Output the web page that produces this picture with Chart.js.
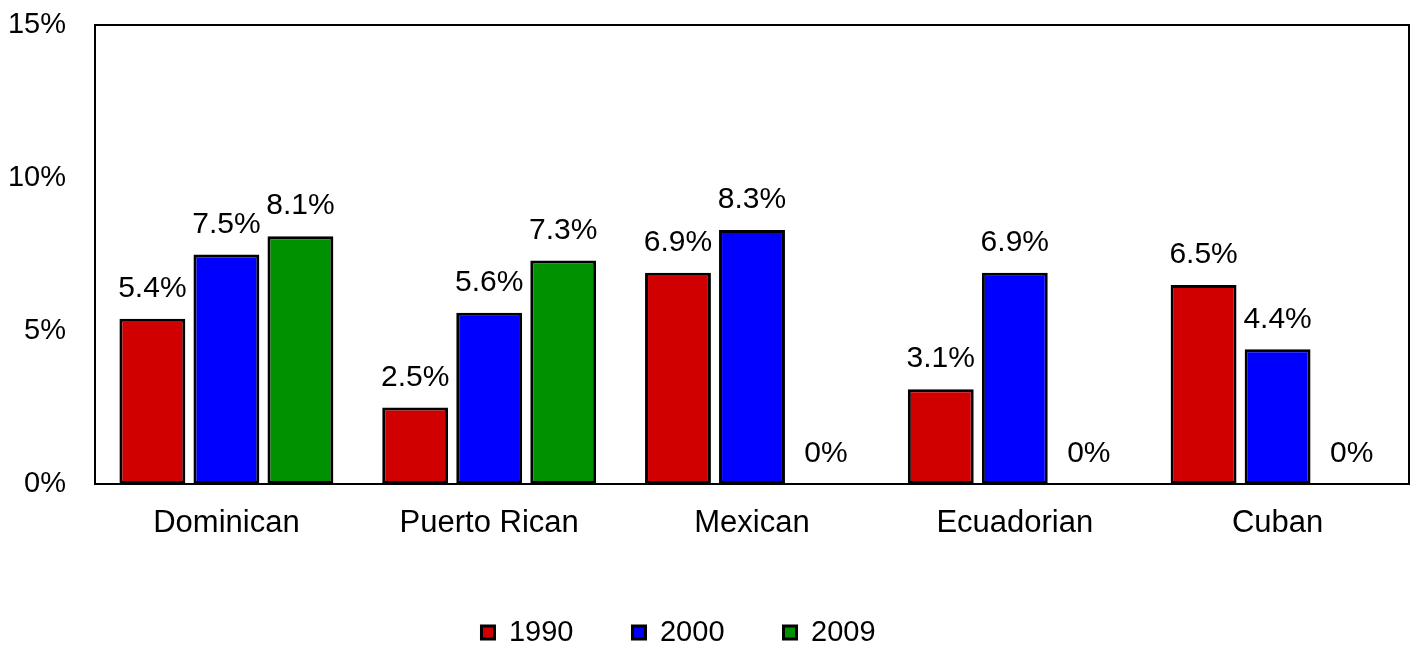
<!DOCTYPE html>
<html>
<head>
<meta charset="utf-8">
<script src="https://cdn.jsdelivr.net/npm/chart.js@4/dist/chart.umd.min.js"></script>
<style>
  html, body { margin: 0; padding: 0; background: #ffffff; }
  #wrap { width: 1413px; height: 650px; }
</style>
</head>
<body>
<div id="wrap"><canvas id="c" width="1413" height="650"></canvas></div>
<script>
const categories = ["Dominican", "Puerto Rican", "Mexican", "Ecuadorian", "Cuban"];
const seriesNames = ["1990", "2000", "2009"];
const values1990 = [5.4, 2.5, 6.9, 3.1, 6.5];
const values2000 = [7.5, 5.6, 8.3, 6.9, 4.4];
const values2009 = [8.1, 7.3, 0, 0, 0];
const yTicks = [0, 5, 10, 15];
const seriesColors = ["#d00000", "#0000ff", "#009100"];

Chart.defaults.font.family = "'Liberation Sans', Arial, sans-serif";
Chart.defaults.color = "#000000";

const valueLabels = {
  id: "valueLabels",
  afterDatasetsDraw(chart) {
    const ctx = chart.ctx;
    ctx.save();
    ctx.font = "30px 'Liberation Sans', Arial, sans-serif";
    ctx.fillStyle = "#000";
    ctx.textAlign = "center";
    ctx.textBaseline = "middle";
    chart.data.datasets.forEach((ds, di) => {
      const meta = chart.getDatasetMeta(di);
      meta.data.forEach((bar, i) => {
        const v = ds.data[i];
        const txt = v === 0 ? "0%" : v.toFixed(1) + "%";
        ctx.fillText(txt, bar.x, bar.y - 30);
      });
    });
    ctx.restore();
  }
};

const plotFrame = {
  id: "plotFrame",
  afterDraw(chart) {
    const a = chart.chartArea;
    const ctx = chart.ctx;
    ctx.save();
    ctx.strokeStyle = "#000";
    ctx.lineWidth = 2;
    ctx.strokeRect(a.left, a.top, a.right - a.left, a.bottom - a.top);
    ctx.restore();
  },
  afterLayout(chart) {
    if (chart.legend) {
      chart.legend.left -= 26;
      chart.legend.right -= 26;
    }
  }
};

new Chart(document.getElementById("c"), {
  type: "bar",
  data: {
    labels: categories,
    datasets: [values1990, values2000, values2009].map((vals, k) => ({
      label: seriesNames[k],
      data: vals,
      backgroundColor: seriesColors[k],
      borderColor: "#000",
      borderWidth: 3,
      borderSkipped: false,
      categoryPercentage: 0.845,
      barPercentage: 0.89
    }))
  },
  options: {
    responsive: false,
    animation: false,
    layout: { padding: { top: 25, right: 4, bottom: -7, left: 0 } },
    plugins: {
      tooltip: { enabled: false },
      legend: {
        position: "bottom",
        labels: {
          font: { size: 29 },
          color: "#000",
          boxWidth: 13,
          boxHeight: 13,
          padding: 59,
          generateLabels(chart) {
            return chart.data.datasets.map((ds, i) => ({
              text: ds.label,
              fillStyle: ds.backgroundColor,
              strokeStyle: "#000",
              lineWidth: 3,
              fontColor: "#000",
              datasetIndex: i,
              hidden: false
            }));
          }
        }
      }
    },
    scales: {
      x: {
        grid: { display: false, drawTicks: false },
        border: { display: true, color: "#000", width: 2 },
        ticks: { font: { size: 31 }, color: "#000", padding: 21 },
        afterFit(scale) { scale.height = 75; }
      },
      y: {
        min: 0,
        max: 15,
        grid: { display: false, drawTicks: false },
        border: { display: true, color: "#000", width: 2 },
        afterBuildTicks(scale) { scale.ticks = yTicks.map(v => ({ value: v })); },
        ticks: {
          font: { size: 29 },
          color: "#000",
          padding: 29,
          callback: (v) => v + "%"
        },
        afterFit(scale) {
          scale.width = 95;
          scale.paddingTop = 0;
          scale.paddingBottom = 0;
        }
      }
    }
  },
  plugins: [valueLabels, plotFrame]
});
</script>
</body>
</html>
